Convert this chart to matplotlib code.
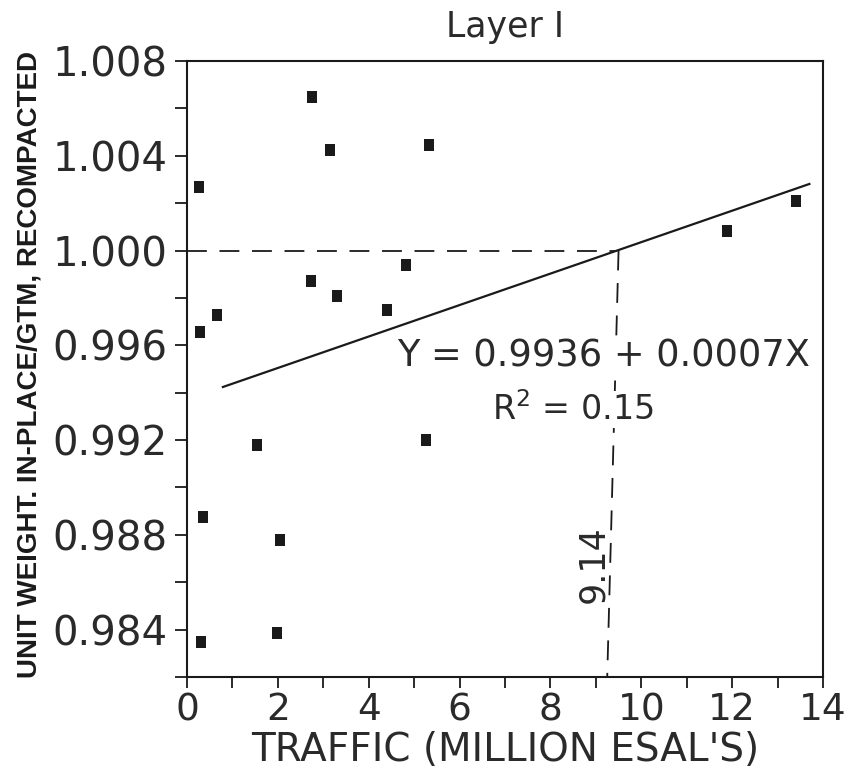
import matplotlib
matplotlib.use("Agg")
import matplotlib.pyplot as plt
from matplotlib.ticker import MultipleLocator, FixedLocator

# ---- data ----
traffic = [2.75, 3.14, 5.32, 0.26, 2.73, 4.82, 3.30, 4.40, 0.66, 0.28,
           1.53, 5.27, 0.35, 2.05, 0.30, 1.99, 11.89, 13.40]
unit_weight = [1.00648, 1.00423, 1.00444, 1.00269, 0.99871, 0.99939, 0.99808, 0.99751, 0.99728, 0.99657,
               0.99180, 0.99200, 0.98877, 0.98779, 0.98347, 0.98386, 1.00083, 1.00211]

fit_x = [0.79, 13.70]
fit_y = [0.99424, 1.00281]

ref_h_x = [0.0, 9.47]
ref_h_y = [1.000, 1.000]
ref_v_x = [9.50, 9.25]
ref_v_y = [1.000, 0.982]

x_ticks = [0, 2, 4, 6, 8, 10, 12, 14]
y_ticks = [0.984, 0.988, 0.992, 0.996, 1.000, 1.004, 1.008]
y_tick_labels = ["0.984", "0.988", "0.992", "0.996", "1.000", "1.004", "1.008"]

title = "Layer I"
xlabel = "TRAFFIC (MILLION ESAL'S)"
ylabel = "UNIT WEIGHT. IN-PLACE/GTM, RECOMPACTED"
eq_text = "Y = 0.9936 + 0.0007X"
r2_text = "R$^2$ = 0.15"
cross_label = "9.14"

ink = "#1a1a1a"
txt = "#2a2a2a"

fig = plt.figure(figsize=(8.46, 7.83), dpi=100)
ax = fig.add_axes([187/846, 1-677/783, (823-187)/846, (677-61)/783])

ax.set_xlim(0, 14)
ax.set_ylim(0.982, 1.008)

# reference dashed lines
ax.plot(ref_h_x, ref_h_y, color=ink, lw=1.3, dashes=(11, 7))
ax.plot(ref_v_x, ref_v_y, color=ink, lw=1.3, dashes=(11, 7))

# regression line
ax.plot(fit_x, fit_y, color=ink, lw=1.6)

# points
rect = [(-0.4, -0.5), (0.4, -0.5), (0.4, 0.5), (-0.4, 0.5), (-0.4, -0.5)]
ax.plot(traffic, unit_weight, linestyle="none", marker=rect, markersize=9,
        color=ink, markeredgewidth=0)

# spines and ticks
for s in ax.spines.values():
    s.set_linewidth(1.5)
    s.set_color(ink)

ax.xaxis.set_major_locator(FixedLocator(x_ticks))
ax.xaxis.set_minor_locator(MultipleLocator(1))
ax.yaxis.set_major_locator(FixedLocator(y_ticks))
ax.yaxis.set_minor_locator(MultipleLocator(0.002))
ax.set_yticklabels(y_tick_labels)

ax.tick_params(axis="both", which="both", direction="out", color=ink, width=1.3)
ax.tick_params(axis="y", which="both", length=9, pad=5, labelsize=29)
ax.tick_params(axis="x", which="both", length=8, pad=3, labelsize=27)
ax.tick_params(labelcolor=txt)

ax.set_xlabel(xlabel, fontsize=28, color=txt, labelpad=2)
fig.text(30/846, 1-365/783, ylabel, rotation=90, ha="center", va="center",
         fontsize=20, fontweight="bold", color=ink,
         family=["Liberation Sans", "DejaVu Sans"])
ax.set_title(title, fontsize=25, color=txt, pad=17)

bbox = dict(facecolor="white", edgecolor="none", pad=1)
ax.text(9.17, 0.99510, eq_text, fontsize=26.5, color=txt, ha="center", va="baseline", bbox=bbox)
ax.text(8.50, 0.99285, r2_text, fontsize=24, color=txt, ha="center", va="baseline", bbox=bbox)
ax.text(8.95, 0.98678, cross_label, fontsize=25, color=txt, rotation=90,
        ha="center", va="center")

fig.savefig("out.png", dpi=100, facecolor="white")
